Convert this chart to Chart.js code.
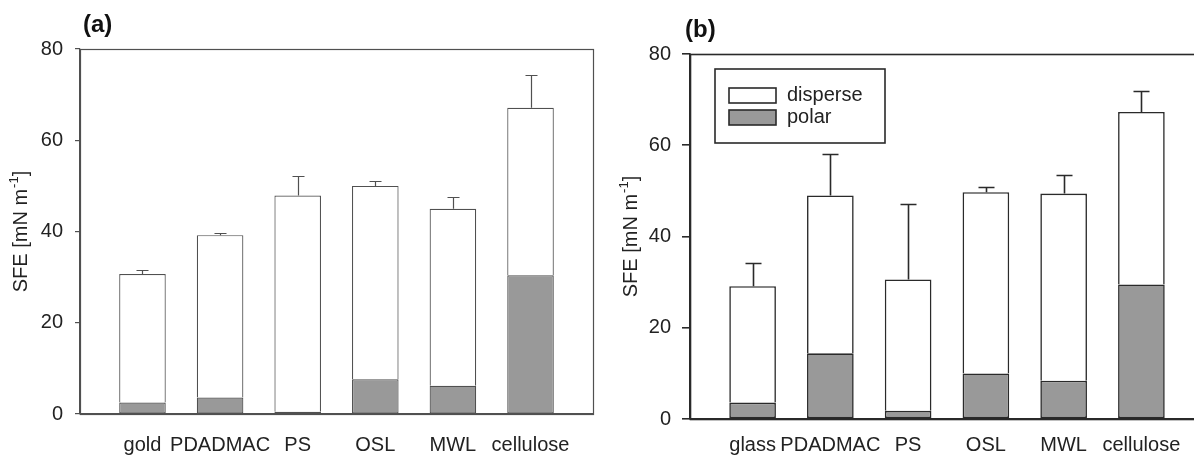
<!DOCTYPE html>
<html>
<head>
<meta charset="utf-8">
<script src="https://cdn.jsdelivr.net/npm/chart.js@4.4.1/dist/chart.umd.min.js"></script>
<style>
  html, body { margin: 0; padding: 0; background: #fff; overflow: hidden; }
  #wrap { position: relative; width: 1194px; height: 456px; overflow: hidden; }
  #chartA { position: absolute; left: 0; top: 0; }
  #chartB { position: absolute; left: 600px; top: 0; }
</style>
</head>
<body>
<div id="wrap">
  <canvas id="chartA" width="600" height="456"></canvas>
  <canvas id="chartB" width="610" height="456"></canvas>
</div>
<script>
// panel (a)
const catsA = ["gold", "PDADMAC", "PS", "OSL", "MWL", "cellulose"];
const polarA = [2.5, 3.6, 0.5, 7.6, 6.2, 30.4];
const disperseA = [28.2, 35.6, 47.4, 42.4, 38.8, 36.7];
const errA = [0.9, 0.4, 4.2, 1.0, 2.5, 7.1];

// panel (b)
const catsB = ["glass", "PDADMAC", "PS", "OSL", "MWL", "cellulose"];
const polarB = [3.6, 14.4, 1.8, 10.0, 8.4, 29.5];
const disperseB = [25.5, 34.6, 28.8, 39.7, 41.0, 37.8];
const errB = [5.0, 9.1, 16.6, 1.1, 4.0, 4.5];

const yTicks = [0, 20, 40, 60, 80];

const FONT = "'Liberation Sans', Arial, Helvetica, sans-serif";
Chart.defaults.font.family = FONT;
Chart.defaults.animation = false;

// error bars on top of the stacked total
const errorBars = {
  id: "errorBars",
  afterDatasetsDraw(chart, args, opts) {
    const { ctx, scales: { x, y } } = chart;
    ctx.save();
    ctx.strokeStyle = opts.color;
    ctx.lineWidth = opts.width;
    opts.err.forEach((e, i) => {
      const total = opts.polar[i] + opts.disperse[i];
      const px = Math.round(x.getPixelForValue(i)) + 0.5;
      const y0 = y.getPixelForValue(total);
      const y1 = Math.round(y.getPixelForValue(total + e)) + 0.5;
      ctx.beginPath();
      ctx.moveTo(px, y0);
      ctx.lineTo(px, y1);
      ctx.moveTo(px - opts.cap / 2, y1);
      ctx.lineTo(px + opts.cap / 2, y1);
      ctx.stroke();
    });
    ctx.restore();
  }
};

// frame, axis title, panel letter, legend box
const decor = {
  id: "decor",
  afterDraw(chart, args, opts) {
    const { ctx, chartArea: a } = chart;
    ctx.save();
    ctx.strokeStyle = opts.color;
    ctx.lineWidth = opts.width;
    ctx.strokeRect(Math.round(a.left) + 0.5, Math.round(a.top) + 0.5,
      Math.round(a.right - a.left), Math.round(a.bottom - a.top));

    // y title with superscript
    const cx = a.left - 59, cy = (a.top + a.bottom) / 2;
    ctx.translate(cx, cy);
    ctx.rotate(-Math.PI / 2);
    ctx.fillStyle = "#222";
    ctx.textBaseline = "middle";
    ctx.textAlign = "left";
    const main = "20px " + FONT, sup = "13px " + FONT;
    ctx.font = main;
    const w1 = ctx.measureText("SFE [mN m").width;
    const w3 = ctx.measureText("]").width;
    ctx.font = sup;
    const w2 = ctx.measureText("-1").width + 1;
    let sx = -(w1 + w2 + w3) / 2;
    ctx.font = main;
    ctx.fillText("SFE [mN m", sx, 0);
    ctx.font = sup;
    ctx.fillText("-1", sx + w1 + 1, -7);
    ctx.font = main;
    ctx.fillText("]", sx + w1 + w2, 0);
    ctx.restore();

    // panel letter
    ctx.save();
    ctx.fillStyle = "#111";
    ctx.font = "bold 24px " + FONT;
    ctx.textBaseline = "middle";
    ctx.fillText(opts.letter, a.left + opts.letterDx, a.top - 24);
    ctx.restore();

    if (opts.legend) {
      ctx.save();
      const lx = a.left + 25, ly = a.top + 15;
      ctx.strokeStyle = opts.color;
      ctx.lineWidth = opts.width;
      ctx.strokeRect(lx, ly, 170, 74);
      const items = chart.data.datasets.slice().reverse();
      items.forEach((ds, k) => {
        const sy = ly + 19 + k * 22;
        ctx.fillStyle = ds.backgroundColor;
        ctx.fillRect(lx + 14, sy, 47, 15);
        ctx.strokeRect(lx + 14, sy, 47, 15);
        ctx.fillStyle = "#222";
        ctx.font = "20px " + FONT;
        ctx.textBaseline = "middle";
        ctx.fillText(ds.label, lx + 72, sy + 7.5);
      });
      ctx.restore();
    }
  }
};

function makeChart(id, cats, polar, disperse, err, st) {
  const pts = (arr) => arr.map((v, i) => ({ x: i, y: v }));
  const barStyle = {
    borderColor: st.color,
    borderWidth: st.width,
    barPercentage: 0.6,
    categoryPercentage: 1
  };
  return new Chart(document.getElementById(id), {
    type: "bar",
    data: {
      datasets: [
        Object.assign({ label: "polar", data: pts(polar), backgroundColor: "#999999", borderSkipped: false }, barStyle),
        Object.assign({ label: "disperse", data: pts(disperse), backgroundColor: "#ffffff", borderSkipped: "bottom" }, barStyle)
      ]
    },
    options: {
      responsive: false,
      events: [],
      layout: { padding: { top: st.padTop, right: st.padRight, left: 0, bottom: 0 } },
      plugins: {
        legend: { display: false },
        tooltip: { enabled: false },
        errorBars: { polar, disperse, err, color: st.color, width: st.width, cap: st.cap },
        decor: { color: st.color, width: st.width, letter: st.letter, letterDx: st.letterDx, legend: st.legend }
      },
      scales: {
        x: {
          type: "linear",
          stacked: true,
          offset: false,
          min: -0.805,
          max: 5.805,
          afterBuildTicks: (s) => { s.ticks = cats.map((_, i) => ({ value: i })); },
          afterFit: (s) => { s.height = st.axisH; },
          grid: { display: false, drawTicks: false, offset: false },
          border: { display: true, color: st.color, width: st.width },
          ticks: {
            autoSkip: false,
            maxRotation: 0,
            padding: st.xPad,
            color: "#222",
            font: { size: 20 },
            callback: (v) => cats[v]
          }
        },
        y: {
          stacked: true,
          min: 0,
          max: 80,
          afterBuildTicks: (s) => { s.ticks = yTicks.map((v) => ({ value: v })); },
          afterFit: (s) => { s.width = st.axisW; },
          grid: { drawOnChartArea: false, drawTicks: true, tickLength: st.tick, color: st.color, lineWidth: st.width },
          border: { display: true, color: st.color, width: st.width },
          ticks: { padding: st.yPad, color: "#222", font: { size: 20 } }
        }
      }
    },
    plugins: [errorBars, decor]
  });
}

makeChart("chartA", catsA, polarA, disperseA, errA, {
  color: "#505050", width: 1.2, cap: 12, tick: 5, yPad: 12, xPad: 19.5,
  padTop: 49, padRight: 7, axisW: 80, axisH: 42, letter: "(a)", letterDx: 3, legend: false
});

makeChart("chartB", catsB, polarB, disperseB, errB, {
  color: "#2a2a2a", width: 1.6, cap: 16, tick: 8, yPad: 11, xPad: 14.5,
  padTop: 54, padRight: 6, axisW: 90, axisH: 37, letter: "(b)", letterDx: -5, legend: true
});
</script>
</body>
</html>
